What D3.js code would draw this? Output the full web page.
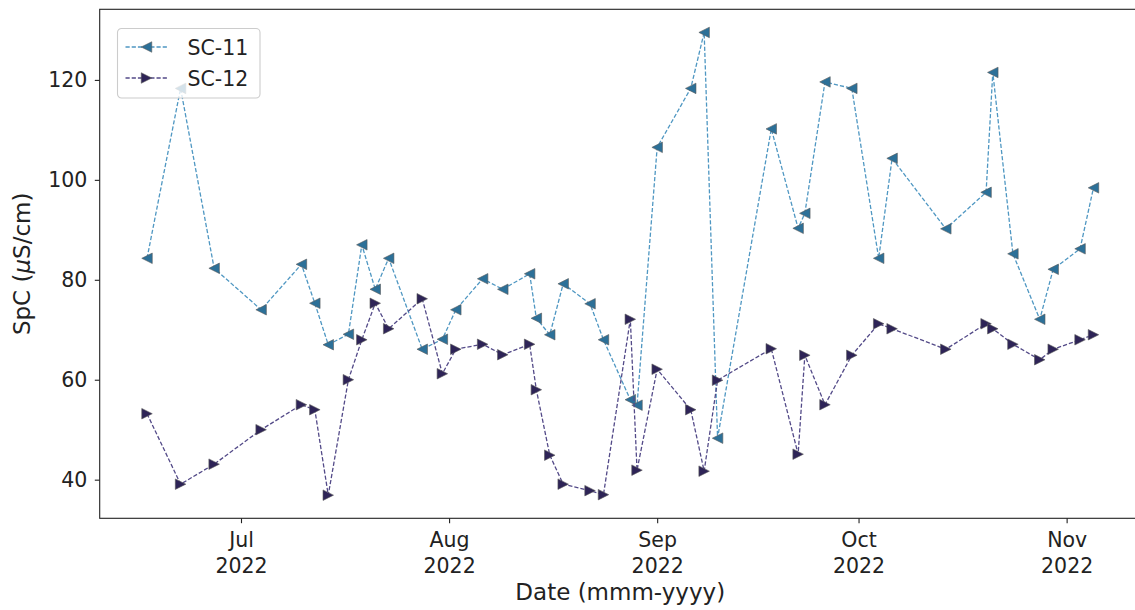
<!DOCTYPE html>
<html>
<head>
<meta charset="utf-8">
<script src="https://cdn.jsdelivr.net/npm/d3@7"></script>
<style>
  html, body { margin: 0; padding: 0; background: #fff; }
  svg { display: block; font-family: "DejaVu Sans", sans-serif; }
</style>
</head>
<body>
<svg id="chart" width="1135" height="610"></svg>
<script>
// Sampling dates (2022) shared by both stations
const sampleDates = [
  "2022-06-17", "2022-06-22", "2022-06-27", "2022-07-04", "2022-07-10", "2022-07-12",
  "2022-07-14", "2022-07-17", "2022-07-19", "2022-07-21", "2022-07-23", "2022-07-28",
  "2022-07-31", "2022-08-02", "2022-08-06", "2022-08-09", "2022-08-13", "2022-08-14",
  "2022-08-16", "2022-08-18", "2022-08-22", "2022-08-24", "2022-08-28", "2022-08-29",
  "2022-09-01", "2022-09-06", "2022-09-08", "2022-09-10", "2022-09-18", "2022-09-22",
  "2022-09-23", "2022-09-26", "2022-09-30", "2022-10-04", "2022-10-06", "2022-10-14",
  "2022-10-20", "2022-10-21", "2022-10-24", "2022-10-28", "2022-10-30", "2022-11-03",
  "2022-11-05"
];

// Specific conductance, µS/cm
const sc11 = [
  84.3, 118.3, 82.3, 74.0, 83.1, 75.3, 67.0, 69.1, 87.0, 78.1, 84.3, 66.1,
  68.1, 74.0, 80.2, 78.1, 81.2, 72.3, 69.0, 79.2, 75.2, 68.0, 56.0, 54.9,
  106.5, 118.3, 129.5, 48.3, 110.2, 90.3, 93.3, 119.6, 118.3, 84.3, 104.3, 90.2,
  97.5, 121.5, 85.2, 72.1, 82.1, 86.2, 98.4
];
const sc12 = [
  53.2, 39.1, 43.1, 50.0, 55.0, 54.0, 36.9, 60.0, 68.0, 75.3, 70.2, 76.2,
  61.2, 66.1, 67.1, 65.0, 67.1, 58.0, 44.9, 39.1, 37.8, 37.0, 72.1, 41.9,
  62.1, 54.0, 41.7, 59.9, 66.2, 45.1, 64.9, 55.0, 64.9, 71.2, 70.2, 66.1,
  71.2, 70.2, 67.1, 64.0, 66.1, 68.0, 69.0
];

const seriesNames = ["SC-11", "SC-12"];
const yTickValues = [40, 60, 80, 100, 120];
const xLabel = "Date (mmm-yyyy)";

const FONT = "DejaVu Sans, sans-serif";
const parse = d3.timeParse("%Y-%m-%d");
const dates = sampleDates.map(parse);

const series = [
  { name: seriesNames[0], values: sc11, marker: "left",  fill: "#2c7098", line: "#4f97c2" },
  { name: seriesNames[1], values: sc12, marker: "right", fill: "#2e2457", line: "#534a88" }
].map(s => ({ ...s, points: s.values.map((v, i) => ({ date: dates[i], value: v })) }));

// Plot area
const plot = { left: 99.7, top: 9.3, right: 1140.8, bottom: 518.3 };

// 5% padding on each side of the data range
const tExt = d3.extent(dates);
const tPad = (tExt[1] - tExt[0]) * 0.05;
const x = d3.scaleTime()
  .domain([new Date(+tExt[0] - tPad), new Date(+tExt[1] + tPad)])
  .range([plot.left, plot.right]);

const allVals = sc11.concat(sc12);
const vExt = d3.extent(allVals);
const vPad = (vExt[1] - vExt[0]) * 0.05;
const y = d3.scaleLinear()
  .domain([vExt[0] - vPad, vExt[1] + vPad])
  .range([plot.bottom, plot.top]);

const svg = d3.select("#chart");

// Triangle marker path (bounding-box centred), pointing left or right
function tri(dir, s) {
  const h = s / 2;
  return dir === "left"
    ? `M${-h},0L${h},${-h}L${h},${h}Z`
    : `M${h},0L${-h},${-h}L${-h},${h}Z`;
}
const markerSize = 10.5;

const line = d3.line().x(d => x(d.date)).y(d => y(d.value));

// Series lines and markers
series.forEach(s => {
  svg.append("path")
    .datum(s.points)
    .attr("d", line)
    .attr("fill", "none")
    .attr("stroke", s.line)
    .attr("stroke-width", 1.3)
    .attr("stroke-dasharray", "4.2,2");

  svg.append("g").selectAll("path")
    .data(s.points)
    .join("path")
    .attr("transform", d => `translate(${x(d.date)},${y(d.value)})`)
    .attr("d", tri(s.marker, markerSize))
    .attr("fill", s.fill)
    .attr("stroke", "#5a5a5a")
    .attr("stroke-width", 0.6);
});

// Axes
const xAxis = d3.axisBottom(x)
  .ticks(d3.timeMonth.every(1))
  .tickSize(4.9)
  .tickFormat(() => "");
const gx = svg.append("g")
  .attr("transform", `translate(0,${plot.bottom})`)
  .call(xAxis)
  .attr("font-family", FONT);
gx.select(".domain").remove();
gx.selectAll(".tick line").attr("stroke", "#222").attr("stroke-width", 1.1);
gx.selectAll(".tick text").remove();
gx.selectAll(".tick").each(function (d) {
  const t = d3.select(this).append("text")
    .attr("fill", "#222")
    .attr("font-family", FONT)
    .attr("font-size", 20.5)
    .attr("text-anchor", "middle");
  t.append("tspan").attr("x", 0).attr("y", 28.3).text(d3.timeFormat("%b")(d));
  t.append("tspan").attr("x", 0).attr("y", 54.3).text(d3.timeFormat("%Y")(d));
});

const yAxis = d3.axisLeft(y)
  .tickValues(yTickValues)
  .tickSize(4.9)
  .tickPadding(7.5)
  .tickFormat(d3.format("d"));
const gy = svg.append("g")
  .attr("transform", `translate(${plot.left},0)`)
  .call(yAxis)
  .attr("font-family", FONT);
gy.select(".domain").remove();
gy.selectAll(".tick line").attr("stroke", "#222").attr("stroke-width", 1.1);
gy.selectAll(".tick text")
  .attr("fill", "#222")
  .attr("font-size", 20.5)
  .attr("font-family", FONT);

// Frame
svg.append("rect")
  .attr("x", plot.left)
  .attr("y", plot.top)
  .attr("width", plot.right - plot.left)
  .attr("height", plot.bottom - plot.top)
  .attr("fill", "none")
  .attr("stroke", "#222")
  .attr("stroke-width", 1.1);

// Axis titles
svg.append("text")
  .attr("x", (plot.left + plot.right) / 2)
  .attr("y", 600)
  .attr("text-anchor", "middle")
  .attr("font-family", FONT)
  .attr("font-size", 23)
  .attr("fill", "#222")
  .text(xLabel);

const yl = svg.append("text")
  .attr("transform", `translate(30,${(plot.top + plot.bottom) / 2}) rotate(-90)`)
  .attr("text-anchor", "middle")
  .attr("font-family", FONT)
  .attr("font-size", 23)
  .attr("fill", "#222");
yl.append("tspan").text("SpC (");
yl.append("tspan").attr("font-style", "italic").text("μ");
yl.append("tspan").text("S/cm)");

// Legend
const lg = svg.append("g").attr("transform", "translate(117.5,28.5)");
lg.append("rect")
  .attr("width", 142.5)
  .attr("height", 69.5)
  .attr("rx", 4)
  .attr("fill", "#fff")
  .attr("fill-opacity", 0.8)
  .attr("stroke", "#cccccc")
  .attr("stroke-width", 1.1);
series.forEach((s, i) => {
  const ly = 18.5 + i * 31;
  lg.append("line")
    .attr("x1", 8).attr("x2", 50)
    .attr("y1", ly).attr("y2", ly)
    .attr("stroke", s.line)
    .attr("stroke-width", 1.3)
    .attr("stroke-dasharray", "4.2,2");
  lg.append("path")
    .attr("transform", `translate(29,${ly})`)
    .attr("d", tri(s.marker, markerSize))
    .attr("fill", s.fill)
    .attr("stroke", "#5a5a5a")
    .attr("stroke-width", 0.6);
  lg.append("text")
    .attr("x", 70)
    .attr("y", ly + 7.5)
    .attr("font-family", FONT)
    .attr("font-size", 20.5)
    .attr("fill", "#222")
    .text(s.name);
});
</script>
</body>
</html>
